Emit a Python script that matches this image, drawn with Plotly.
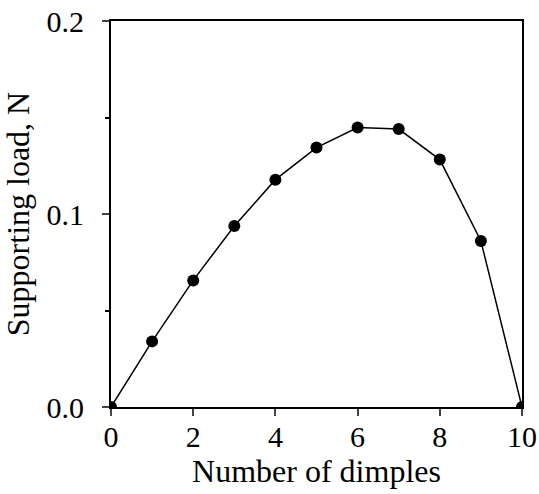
import plotly.graph_objects as go

dimples = [0, 1, 2, 3, 4, 5, 6, 7, 8, 9, 10]
load = [0.0, 0.034, 0.0656, 0.0938, 0.1178, 0.1344, 0.1448, 0.1440, 0.1282, 0.086, 0.0]

x_ticks = [0, 2, 4, 6, 8, 10]
y_ticks = [0.0, 0.1, 0.2]
y_tick_labels = ["0.0", "0.1", "0.2"]

family = "Liberation Serif, Times New Roman, serif"
tick_font = dict(family=family, size=30, color="black")
title_font = dict(family=family, size=32, color="black")

fig = go.Figure(go.Scatter(
    x=dimples, y=load, mode="lines+markers",
    line=dict(color="black", width=1.5),
    marker=dict(color="black", size=12),
))

fig.update_layout(
    width=539, height=494,
    margin=dict(l=111, r=17, t=21, b=87),
    paper_bgcolor="white", plot_bgcolor="white",
    font=dict(family=family, size=30, color="black"), showlegend=False,
    xaxis=dict(
        range=[0, 10], tickvals=x_ticks, ticks="outside", ticklen=7, tickwidth=1.5,
        tickfont=tick_font, automargin=False, ticklabeloverflow="allow",
        ticklabelstandoff=-5,
        showline=True, linewidth=2, linecolor="black", mirror=True,
        showgrid=False, zeroline=False,
        title=dict(text="Number of dimples", font=title_font, standoff=0),
    ),
    yaxis=dict(
        range=[0, 0.2], tickvals=y_ticks, ticktext=y_tick_labels,
        ticks="outside", ticklen=7, tickwidth=1.5, tickfont=tick_font, automargin=False,
        ticklabeloverflow="allow", ticklabelstandoff=12,
        minor=dict(dtick=0.05, ticks="outside", ticklen=4, tickwidth=1.5, tickcolor="black", showgrid=False),
        showline=True, linewidth=2, linecolor="black", mirror=True,
        showgrid=False, zeroline=False,
        title=dict(text="Supporting load, N", font=title_font, standoff=15),
    ),
)

fig.write_html("out.html", config={"displayModeBar": False},
               post_script="document.body.style.margin='0';")
